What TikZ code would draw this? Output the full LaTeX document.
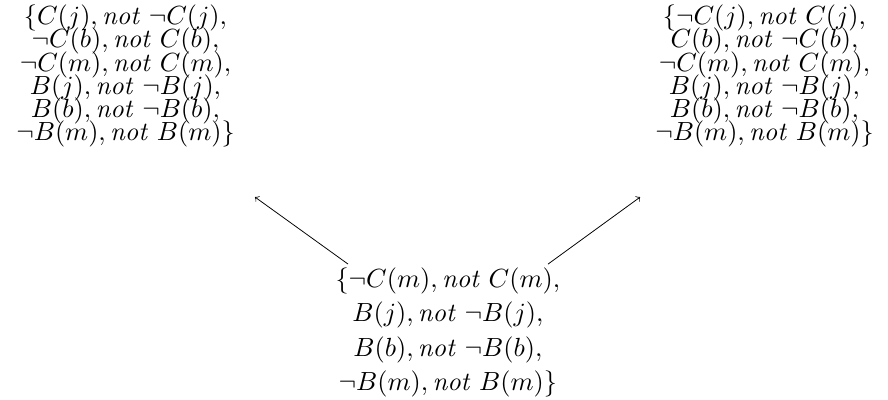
\documentclass[tikz,border=0pt]{standalone}
\newcommand{\linesat}[1]{\setlength{\baselineskip}{#1}\setlength{\lineskiplimit}{-100pt}}
\begin{document}
\begin{tikzpicture}[x=1pt,y=1pt,
  setbox/.style={align=center,inner sep=0pt,font=\linesat{8.82pt}},
  loosebox/.style={align=center,inner sep=0pt,font=\linesat{13.1pt}},
  big/.style={scale=1.36,transform shape},
  arr/.style={->,>=to,thin}]
\useasboundingbox (0,0) rectangle (460,-207);
\newcommand{\nt}{\mathit{not}\;}
\begin{scope}[shift={(65,-39.4)},big]
\node[setbox] (l) at (0,0) {$\{C(j), \nt\neg C(j),$\\ $\neg C(b), \nt C(b),$\\ $\neg C(m), \nt C(m),$\\ $B(j), \nt\neg B(j),$\\ $B(b), \nt\neg B(b),$\\ $\neg B(m), \nt B(m)\}$};
\end{scope}
\begin{scope}[shift={(396,-39.4)},big]
\node[setbox] (r) at (0,0) {$\{\neg C(j), \nt C(j),$\\ $C(b), \nt\neg C(b),$\\ $\neg C(m), \nt C(m),$\\ $B(j), \nt\neg B(j),$\\ $B(b), \nt\neg B(b),$\\ $\neg B(m), \nt B(m)\}$};
\end{scope}
\begin{scope}[shift={(232,-172.3)},big]
\node[loosebox] (b) at (0,0) {$\{\neg C(m), \nt C(m),$\\ $B(j), \nt\neg B(j),$\\ $B(b), \nt\neg B(b),$\\ $\neg B(m), \nt B(m)\}$};
\end{scope}
\coordinate (bl) at (180.3,-136.8);
\coordinate (br) at (283.9,-136.8);
\coordinate (le) at (132.1,-102.1);
\coordinate (re) at (331.6,-102.1);
\draw[arr] (bl) -- (le);
\draw[arr] (br) -- (re);
\end{tikzpicture}
\end{document}
